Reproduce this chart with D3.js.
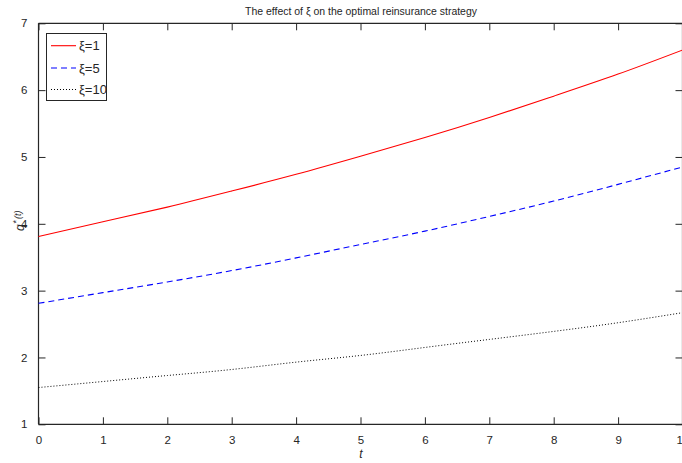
<!DOCTYPE html>
<html><head><meta charset="utf-8">
<script src="https://cdn.jsdelivr.net/npm/d3@7"></script>
<style>
body{margin:0;background:#fff;}
text{font-family:"Liberation Sans Narrow","Liberation Sans",Arial,sans-serif;fill:#262626;}
</style></head>
<body>
<svg id="c" width="682" height="463"></svg>
<script>
const tValues = [0,1,2,3,4,5,6,7,8,9,10];
const xi1  = [3.81,4.03,4.25,4.49,4.74,5.01,5.29,5.59,5.91,6.24,6.60];
const xi5  = [2.81,2.97,3.13,3.30,3.49,3.69,3.89,4.11,4.34,4.59,4.85];
const xi10 = [1.55,1.64,1.73,1.82,1.93,2.03,2.15,2.27,2.39,2.52,2.67];
const seriesNames = ["ξ=1","ξ=5","ξ=10"];
const xTicks = [0,1,2,3,4,5,6,7,8,9,10];
const yTicks = [1,2,3,4,5,6,7];

const svg = d3.select("#c");
const L=38.5, R=682.5, T=23.3, B=424.3;
const x = d3.scaleLinear().domain([0,10]).range([L,R]);
const y = d3.scaleLinear().domain([1,7]).range([B,T]);
const tk = 7;
const axCol = "#262626";

// axes
const gx = svg.append("g").attr("transform",`translate(0,${B})`)
  .call(d3.axisBottom(x).tickValues(xTicks).tickSize(-tk).tickPadding(tk+5).tickFormat(d3.format("d")));
const gxt = svg.append("g").attr("transform",`translate(0,${T})`)
  .call(d3.axisTop(x).tickValues(xTicks).tickSize(-tk).tickFormat(""));
const gy = svg.append("g").attr("transform",`translate(${L},0)`)
  .call(d3.axisLeft(y).tickValues(yTicks).tickSize(-tk).tickPadding(tk+4).tickFormat(d3.format("d")));
const gyr = svg.append("g").attr("transform",`translate(${R},0)`)
  .call(d3.axisRight(y).tickValues(yTicks).tickSize(-tk).tickFormat(""));
[gx,gxt,gy,gyr].forEach(g=>{
  g.selectAll(".domain").attr("stroke",axCol).attr("stroke-width",1.2);
  g.selectAll(".tick line").attr("stroke",axCol).attr("stroke-width",1);
  g.selectAll(".tick text").attr("font-size",11.5).attr("fill",axCol)
    .style("font-family",'"Liberation Sans Narrow","Liberation Sans",Arial,sans-serif');
});
gx.selectAll(".domain").attr("d",`M${L},0H${R}`);
gxt.selectAll(".domain").attr("d",`M${L},0H${R}`);
gy.selectAll(".domain").attr("d",`M0,${B}V${T}`);
gyr.selectAll(".domain").attr("d",`M0,${B}V${T}`);

// lines
const line = d3.line().x((d,i)=>x(tValues[i])).y(d=>y(d)).curve(d3.curveNatural);
const styles = [
  {data:xi1, color:"#ff0000", dash:null, w:1.1},
  {data:xi5, color:"#0000ff", dash:"6,4", w:1.1},
  {data:xi10,color:"#000000", dash:"1,2", w:1}
];
styles.forEach(s=>{
  svg.append("path").attr("d",line(s.data)).attr("fill","none")
    .attr("stroke",s.color).attr("stroke-width",s.w)
    .attr("stroke-dasharray",s.dash);
});

// title
svg.append("text").attr("x",361).attr("y",15).attr("text-anchor","middle")
  .attr("font-size",11.5).attr("textLength",232).attr("lengthAdjust","spacingAndGlyphs")
  .attr("fill","#000").text("The effect of ξ on the optimal reinsurance strategy");

// x label
svg.append("text").attr("x",361).attr("y",458).attr("text-anchor","middle")
  .attr("font-size",12).attr("font-style","italic").style("font-family","'Liberation Sans',Arial,sans-serif").text("t");

// y label
const yg = svg.append("g").attr("transform","translate(24,231) rotate(-90)");
yg.append("text").attr("x",0).attr("y",0).attr("font-size",12).attr("font-style","italic")
  .style("font-family","'Liberation Sans',Arial,sans-serif").text("q");
yg.append("text").attr("x",7.5).attr("y",-5).attr("font-size",9)
  .style("font-family","'Liberation Sans',Arial,sans-serif").text("*");
yg.append("text").attr("x",12).attr("y",-3).attr("font-size",9).attr("font-style","italic")
  .style("font-family","'Liberation Sans',Arial,sans-serif").text("(t)");

// legend
const lg = svg.append("g");
lg.append("rect").attr("x",46.5).attr("y",33.5).attr("width",60).attr("height",67)
  .attr("fill","#fff").attr("stroke",axCol).attr("stroke-width",1);
const ly = [45.7,68,89.5];
styles.forEach((s,i)=>{
  lg.append("line").attr("x1",51).attr("x2",76).attr("y1",ly[i]).attr("y2",ly[i])
    .attr("stroke",s.color).attr("stroke-width",s.w).attr("stroke-dasharray",s.dash);
  lg.append("text").attr("x",79).attr("y",ly[i]+4.5).attr("font-size",13).attr("fill","#000")
    .text(seriesNames[i]);
});
</script>
</body></html>
